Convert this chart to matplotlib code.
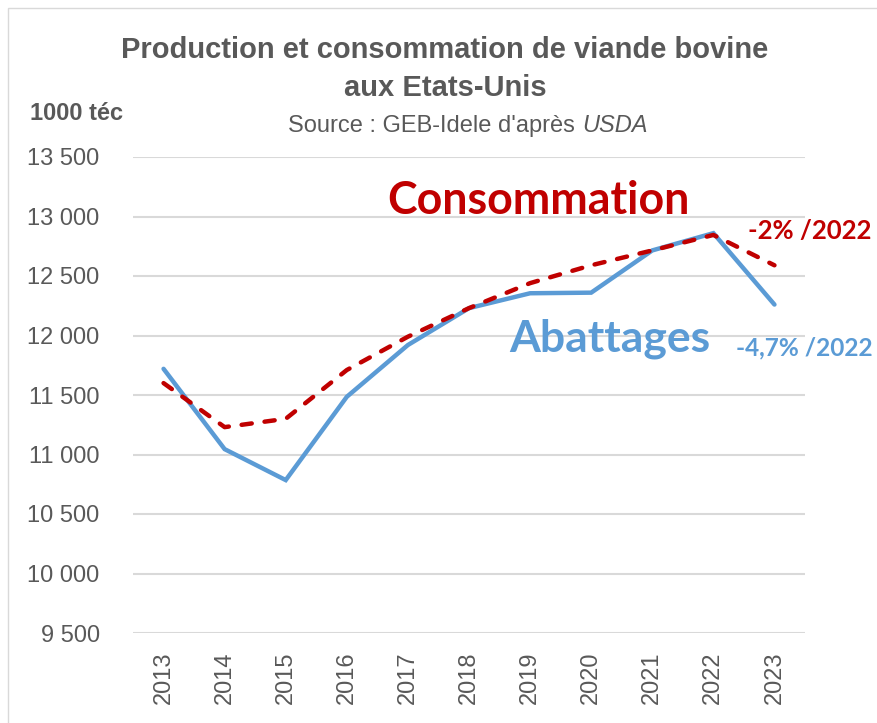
import matplotlib
matplotlib.use('Agg')
import matplotlib.pyplot as plt
from matplotlib.patches import Rectangle

years = ['2013', '2014', '2015', '2016', '2017', '2018', '2019', '2020', '2021', '2022', '2023']
abattages = [11720, 11045, 10785, 11485, 11920, 12230, 12355, 12360, 12715, 12860, 12260]
consommation = [11600, 11230, 11300, 11710, 11990, 12230, 12440, 12590, 12715, 12845, 12590]
yticks = [9500, 10000, 10500, 11000, 11500, 12000, 12500, 13000, 13500]

blue = '#5B9BD5'
red = '#C00000'
gray = '#595959'
label_font = 'Liberation Sans'
big_font = 'Lato'

W, H = 878, 723
fig = plt.figure(figsize=(W / 100, H / 100), dpi=100)
fig.patch.set_facecolor('white')

# light chart frame (cut on right / bottom like the screenshot)
fig.patches.append(Rectangle((8 / W, -0.1), 1.2, 1 - 8 / H + 0.1, transform=fig.transFigure,
                             fill=False, edgecolor='#D9D9D9', linewidth=1))

ax = fig.add_axes([133 / W, 1 - 633 / H, (805 - 133) / W, (633 - 157) / H])
x = list(range(len(years)))

ax.plot(x, abattages, color=blue, linewidth=3.2, solid_capstyle='round', solid_joinstyle='miter', zorder=3)
ax.plot(x, consommation, color=red, linewidth=3.2, linestyle=(0, (2.3, 2.9)),
        dash_capstyle='round', zorder=4)

ax.set_xlim(-0.5, len(years) - 0.5)
ax.set_ylim(9500, 13500)
ax.set_yticks(yticks)
ax.set_yticklabels([f'{v:,}'.replace(',', ' ') for v in yticks],
                   fontsize=17, color=gray, family=label_font)
ax.set_xticks(x)
ax.set_xticklabels(years, rotation=90, fontsize=17, color=gray, family=label_font)
ax.tick_params(length=0, pad=13)
ax.tick_params(axis='y', pad=24)
ax.grid(axis='y', color='#D9D9D9', linewidth=1.5)
ax.set_axisbelow(True)
for s in ax.spines.values():
    s.set_visible(False)

# titles
fig.text(445 / W, 1 - 50 / H, 'Production et consommation de viande bovine', ha='center', va='center',
         fontsize=21, fontweight='bold', color=gray, family=label_font)
fig.text(445 / W, 1 - 88 / H, 'aux Etats-Unis', ha='center', va='center',
         fontsize=21, fontweight='bold', color=gray, family=label_font)
fig.text(30 / W, 1 - 114 / H, '1000 téc', ha='left', va='center',
         fontsize=17, fontweight='bold', color=gray, family=label_font)
fig.text(582 / W, 1 - 126 / H, "Source : GEB-Idele d'après ", ha='right', va='center',
         fontsize=17, color=gray, family=label_font)
fig.text(582 / W, 1 - 126 / H, 'USDA', ha='left', va='center',
         fontsize=17, style='italic', color=gray, family=label_font)

# series labels
fig.text(387 / W, 1 - 201 / H, 'Consommation', ha='left', va='center',
         fontsize=32.2, fontweight='bold', color=red, family=big_font)
fig.text(509 / W, 1 - 339 / H, 'Abattages', ha='left', va='center',
         fontsize=32, fontweight='bold', color=blue, family=big_font)
fig.text(748 / W, 1 - 231 / H, '-2% /2022', ha='left', va='center',
         fontsize=18.5, fontweight='bold', color=red, family=big_font)
fig.text(736 / W, 1 - 348 / H, '-4,7% /2022', ha='left', va='center',
         fontsize=17.6, fontweight='bold', color=blue, family=big_font)

fig.savefig('out.png', dpi=100)
